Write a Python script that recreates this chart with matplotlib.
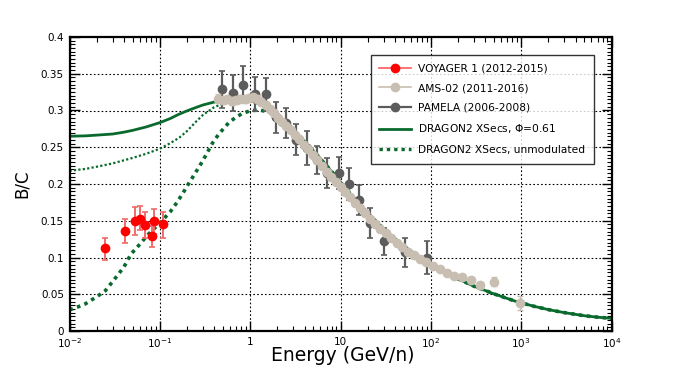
import matplotlib
matplotlib.use('Agg')
import matplotlib.pyplot as plt
import matplotlib.transforms as mtransforms
import numpy as np
from matplotlib.ticker import FixedLocator, LogLocator, MultipleLocator, FuncFormatter, NullFormatter
from matplotlib.lines import Line2D

plt.rcParams['font.family'] = ['DejaVu Sans']
plt.rcParams['mathtext.default'] = 'regular'

# ---- data ----
# Voyager 1 (2012-2015)
voy_e = [0.025, 0.041, 0.0536, 0.0598, 0.0686, 0.0827, 0.0869, 0.108]
voy_bc = [0.113, 0.136, 0.150, 0.153, 0.144, 0.129, 0.149, 0.145]
voy_hi = [0.127, 0.152, 0.169, 0.170, 0.162, 0.143, 0.166, 0.1615]
voy_lo = [0.097, 0.120, 0.131, 0.137, 0.126, 0.114, 0.132, 0.126]

# AMS-02 (2011-2016)
ams_e = [0.44, 0.50, 0.56, 0.63, 0.70, 0.78, 0.87, 0.97, 1.08, 1.2, 1.33, 1.48,
         1.64, 1.82, 2.02, 2.25, 2.5, 2.8, 3.1, 3.5, 3.9, 4.4, 4.9, 5.5, 6.2,
         7.0, 7.9, 8.9, 10.0, 11.3, 12.8, 14.5, 16.4, 18.6, 21.2, 24.2, 27.6,
         31.6, 36.3, 41.8, 48.3, 56, 65, 76, 89, 105, 125, 150, 180, 220, 278,
         350, 494, 960]
ams_bc = [0.316, 0.314, 0.315, 0.313, 0.314, 0.316, 0.315, 0.317, 0.318, 0.316,
          0.312, 0.308, 0.302, 0.297, 0.290, 0.284, 0.279, 0.273, 0.267, 0.261,
          0.253, 0.247, 0.240, 0.232, 0.225, 0.217, 0.210, 0.203, 0.196, 0.189,
          0.182, 0.174, 0.167, 0.160, 0.152, 0.145, 0.139, 0.133, 0.127, 0.120,
          0.114, 0.108, 0.103, 0.098, 0.094, 0.089, 0.084, 0.079, 0.075, 0.074,
          0.070, 0.062, 0.067, 0.038]
ams_err = [0.006, 0.005, 0.005, 0.005, 0.005, 0.005, 0.005, 0.005, 0.005, 0.005,
           0.004, 0.004, 0.004, 0.004, 0.004, 0.004, 0.004, 0.003, 0.003, 0.003,
           0.003, 0.003, 0.003, 0.003, 0.003, 0.003, 0.003, 0.003, 0.003, 0.003,
           0.003, 0.003, 0.003, 0.003, 0.003, 0.003, 0.003, 0.003, 0.003, 0.003,
           0.003, 0.003, 0.003, 0.003, 0.003, 0.003, 0.003, 0.003, 0.003, 0.003,
           0.004, 0.005, 0.006, 0.009]

# PAMELA (2006-2008)
pam_e = [0.49, 0.65, 0.84, 1.12, 1.49, 1.94, 2.5, 3.2, 4.26, 5.5, 7.1, 9.6,
         12.5, 16.2, 21.0, 30.5, 52, 91]
pam_bc = [0.329, 0.324, 0.335, 0.323, 0.322, 0.291, 0.283, 0.260, 0.249, 0.233,
          0.215, 0.215, 0.200, 0.178, 0.147, 0.122, 0.107, 0.100]
pam_err = [0.025, 0.024, 0.025, 0.023, 0.022, 0.021, 0.021, 0.021, 0.023, 0.019,
           0.020, 0.022, 0.022, 0.020, 0.020, 0.018, 0.020, 0.022]

# DRAGON2 XSecs, modulated (Phi = 0.61)
mod_e = [0.01, 0.015, 0.02, 0.03, 0.04, 0.05, 0.07, 0.1, 0.13, 0.16, 0.2, 0.25,
         0.3, 0.4, 0.5, 0.7, 0.85, 1.0, 1.2, 1.5, 2, 2.5, 3, 4, 5, 7, 10, 14,
         20, 30, 44, 68, 100, 150, 204, 300, 500, 863, 1400, 2015, 3000, 5000,
         7000, 10000]
mod_bc = [0.265, 0.2655, 0.2665, 0.268, 0.2705, 0.273, 0.2775, 0.2835, 0.289,
          0.2945, 0.2995, 0.304, 0.3075, 0.3115, 0.3135, 0.315, 0.315, 0.3135,
          0.310, 0.3045, 0.294, 0.284, 0.274, 0.258, 0.245, 0.225, 0.203, 0.181,
          0.160, 0.139, 0.1215, 0.1034, 0.091, 0.079, 0.0705, 0.061, 0.0505,
          0.0405, 0.0335, 0.029, 0.025, 0.0208, 0.0188, 0.0172]

# second (thin dotted) model curve, not in legend
thin_e = [0.01, 0.015, 0.02, 0.03, 0.05, 0.07, 0.1, 0.13, 0.164, 0.2, 0.25, 0.3,
          0.4, 0.5, 0.65, 0.8, 1.0, 1.2, 1.5, 2, 2.5, 3]
thin_bc = [0.218, 0.2205, 0.2235, 0.228, 0.2355, 0.241, 0.248, 0.2555, 0.263,
           0.272, 0.2845, 0.294, 0.3045, 0.3095, 0.3125, 0.314, 0.3135, 0.310,
           0.3045, 0.294, 0.284, 0.274]

# DRAGON2 XSecs, unmodulated
unmod_e = [0.01, 0.0125, 0.015, 0.0206, 0.025, 0.0314, 0.04, 0.048, 0.06, 0.0733,
           0.1, 0.13, 0.157, 0.185, 0.212, 0.25, 0.3, 0.384, 0.45, 0.585, 0.7,
           0.82, 1.02, 1.29, 1.6, 2.0, 2.5, 3, 4, 5, 7, 10, 14, 20, 30, 44, 68,
           100, 150, 204, 300, 500, 863, 1400, 2015, 3000, 5000, 7000, 10000]
unmod_bc = [0.0286, 0.033, 0.037, 0.0476, 0.055, 0.0703, 0.087, 0.1048, 0.118,
            0.1306, 0.147, 0.162, 0.176, 0.190, 0.202, 0.216, 0.232, 0.256,
            0.268, 0.284, 0.291, 0.296, 0.300, 0.3005, 0.298, 0.292, 0.283,
            0.274, 0.258, 0.245, 0.225, 0.203, 0.181, 0.160, 0.139, 0.1215,
            0.1034, 0.091, 0.079, 0.0705, 0.061, 0.0505, 0.0405, 0.0335, 0.029,
            0.025, 0.0208, 0.0188, 0.0172]

x_ticks = [1e-2, 1e-1, 1, 10, 1e2, 1e3, 1e4]
x_labels = ['10$^{-2}$', '10$^{-1}$', '1', '10', '10$^{2}$', '10$^{3}$', '10$^{4}$']

green = '#0a6a2e'
ams_col = '#c8beb2'
pam_col = '#5c5c5c'

fig = plt.figure(figsize=(6.81, 3.68), dpi=100)
ax = fig.add_axes([69.5 / 681, (368 - 331) / 368, 542 / 681, 294 / 368])

ax.plot(mod_e, mod_bc, color=green, lw=2.0, zorder=2)
ax.plot(thin_e, thin_bc, color=green, lw=1.6, ls=(0, (1, 1)), zorder=2)
ax.plot(unmod_e, unmod_bc, color=green, lw=2.6, ls=(0, (1, 1.2)), zorder=2)

ax.errorbar(pam_e, pam_bc, yerr=pam_err, fmt='o', color=pam_col, ms=6,
            elinewidth=1.6, capsize=2.5, capthick=1.2, zorder=3)
ax.errorbar(ams_e, ams_bc, yerr=ams_err, fmt='o', color=ams_col, ms=6,
            elinewidth=1.0, capsize=2, capthick=1.0, zorder=4)
ax.errorbar(voy_e, voy_bc,
            yerr=[np.array(voy_bc) - np.array(voy_lo), np.array(voy_hi) - np.array(voy_bc)],
            fmt='o', color='#ff0000', ecolor='#f06a6a', ms=6, elinewidth=1.4,
            capsize=2.5, capthick=1.2, zorder=5)

ax.set_xscale('log')
ax.set_xlim(1e-2, 1e4)
ax.set_ylim(0, 0.4)

ax.xaxis.set_major_locator(FixedLocator(x_ticks))
ax.set_xticklabels(x_labels)
ax.xaxis.set_minor_locator(LogLocator(base=10, subs=np.arange(2, 10)))
ax.xaxis.set_minor_formatter(NullFormatter())
ax.yaxis.set_major_locator(MultipleLocator(0.05))
ax.yaxis.set_minor_locator(MultipleLocator(0.005))
ax.yaxis.set_major_formatter(FuncFormatter(lambda v, p: '%g' % round(v, 3)))

ax.tick_params(which='both', direction='in', top=True, right=True, labelsize=7.5)
ax.tick_params(which='major', length=7, width=1.0)
ax.tick_params(which='minor', length=3.5, width=0.8)
ax.tick_params(axis='x', pad=4)
ax.tick_params(axis='y', pad=4)

for s in ax.spines.values():
    s.set_linewidth(1.6)

for gx in [1e-1, 1, 10, 1e2, 1e3]:
    ax.axvline(gx, color='black', lw=0.8, ls=(0, (1.5, 2)), zorder=1)
for gy in [0.05, 0.1, 0.15, 0.2, 0.25, 0.3, 0.35]:
    ax.axhline(gy, color='black', lw=0.8, ls=(0, (1.5, 2)), zorder=1)

ax.set_ylabel('B/C', fontsize=12)
ax.yaxis.set_label_coords(-0.072, 0.5)
ax.set_xlabel('Energy (GeV/n)', fontsize=13.5)
ax.xaxis.set_label_coords(0.504, -0.05)

# lift the "0" label a little so it clears the 10^-2 label below it
fig.canvas.draw()
zero_lbl = ax.get_yticklabels()[0]
zero_lbl.set_transform(zero_lbl.get_transform() +
                       mtransforms.ScaledTranslation(0, 4 / 72, fig.dpi_scale_trans))

handles = [
    Line2D([], [], color='#ff5a5a', marker='o', mfc='#ff0000', mec='#ff0000', ms=6, lw=1.2),
    Line2D([], [], color=ams_col, marker='o', ms=6, lw=1.2),
    Line2D([], [], color=pam_col, marker='o', ms=6, lw=1.6),
    Line2D([], [], color=green, lw=2.0),
    Line2D([], [], color=green, lw=2.4, ls=(0, (1, 1.2))),
]
labels = ['VOYAGER 1 (2012-2015)', 'AMS-02 (2011-2016)', 'PAMELA (2006-2008)',
          'DRAGON2 XSecs, $\\Phi$=0.61', 'DRAGON2 XSecs, unmodulated']
leg = ax.legend(handles, labels, loc='upper left', bbox_to_anchor=(0.556, 0.939),
                borderaxespad=0, fontsize=7.7, frameon=True, fancybox=False,
                handlelength=3.0, handletextpad=0.65, labelspacing=0.9,
                borderpad=0.8)
leg.get_frame().set_edgecolor('black')
leg.get_frame().set_linewidth(1.0)
leg.set_zorder(10)

fig.savefig('out.png', dpi=100)
